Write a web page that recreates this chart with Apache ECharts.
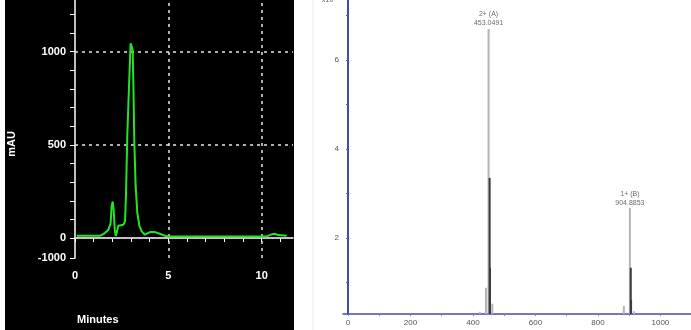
<!DOCTYPE html>
<html><head><meta charset="utf-8">
<script src="https://cdn.jsdelivr.net/npm/echarts@6/dist/echarts.min.js"></script>
<style>html,body{margin:0;padding:0;background:#fff}#c{width:691px;height:330px}</style>
</head><body><div id="c"></div>
<script>
// Chromatogram (left)
const timeMin = [0.09,1.34,1.6,1.79,1.91,1.96,2.02,2.07,2.13,2.18,2.23,2.32,2.59,2.68,2.73,2.8,2.89,2.98,3.04,3.09,3.13,3.18,3.25,3.34,3.45,3.57,3.75,4.02,4.29,4.55,4.82,5.0,10.27,10.54,10.71,10.89,11.34];
const mAU = [12,12,27,45,80,170,196,152,45,12,27,66,71,90,223,545,804,1045,1027,1009,812,509,277,134,66,36,18,32,32,23,12,9,9,20,23,16,12];
const chromYLabels = [-107,0,500,1000];
const chromXLabels = [0,5,10];
// Mass spectrum (right)
const lightMz = [422,441.6,450,461.8,883,902.4,916];
const lightInt = [0.34,0.88,6.7,0.52,0.47,2.67,0.35];
const darkMz = [453.4,454.5,905.2,906.2];
const darkInt = [3.35,1.33,1.33,0.6];
const annotMz = [450,902.4];
const annotInt = [6.7,2.67];
const annotText = ['2+ (A)\n453.0491','1+ (B)\n904.8853'];
const msYLabels = [2,4,6];
const msXLabels = [0,200,400,600,800,1000];

const chart = echarts.init(document.getElementById('c'), null, {renderer:'canvas'});
const range = (a,b,s)=>{const r=[];for(let v=a;v<=b+1e-9;v+=s)r.push(v);return r;};
const white='#ffffff';
const gridLine = (c)=>({type:[3,4],color:c,width:1.5});
chart.setOption({
  animation:false,
  backgroundColor:'#ffffff',
  graphic:[
    {type:'rect',shape:{x:5,y:0,width:289,height:330},style:{fill:'#000'},z:-10,silent:true},
    {type:'line',shape:{x1:313,y1:0,x2:313,y2:330},style:{stroke:'#eeeee8',lineWidth:1},z:-10,silent:true},
    {type:'text',x:77,y:320,style:{text:'Minutes',fill:white,font:'bold 11px "Liberation Sans"',align:'left',verticalAlign:'middle'}},
    {type:'text',x:12,y:144,rotation:Math.PI/2,style:{text:'mAU',fill:white,font:'bold 11px "Liberation Sans"',align:'center',verticalAlign:'middle'}},
    {type:'text',x:322,y:-3,style:{text:'x10\u2074',fill:'#555',font:'7px "Liberation Sans"'}}
  ],
  grid:[
    {left:75,top:0,width:218,height:258},
    {left:343,top:0,width:348,height:314}
  ],
  xAxis:[
    {gridIndex:0,type:'value',min:0,max:11.68,
     axisLine:{lineStyle:{color:white,width:1.5}},
     axisTick:{customValues:range(0,11,1),length:4,lineStyle:{color:white,width:1}},
     axisLabel:{customValues:chromXLabels,color:white,fontSize:11,fontWeight:'bold',fontFamily:'Liberation Sans',margin:12},
     splitLine:{show:false}},
    {gridIndex:1,type:'value',min:-16,max:1098,
     axisLine:{lineStyle:{color:'#4848b0',width:1.5}},
     axisTick:{customValues:range(0,1000,100),length:2,lineStyle:{color:'#888'}},
     axisLabel:{customValues:msXLabels,color:'#555',fontSize:8,fontFamily:'Liberation Sans',margin:5,formatter:v=>String(v)},
     splitLine:{show:false}}
  ],
  yAxis:[
    {gridIndex:0,type:'value',min:-107,max:1277,
     axisLine:{show:true,lineStyle:{color:white,width:1.5}},
     axisTick:{customValues:[-107].concat(range(0,1200,100)),length:5,lineStyle:{color:white,width:1}},
     axisLabel:{customValues:chromYLabels,color:white,fontSize:11,fontWeight:'bold',fontFamily:'Liberation Sans',margin:9,
       formatter:v=>v<0?'-1000':String(v)},
     splitLine:{show:false}},
    {gridIndex:1,type:'value',min:0.29,max:7.35,
     axisLine:{show:true,lineStyle:{color:'#4848b0',width:2}},
     axisTick:{customValues:range(1,7,1),length:2,lineStyle:{color:'#666'}},
     axisLabel:{customValues:msYLabels,color:'#555',fontSize:8,fontFamily:'Liberation Sans',margin:4},
     splitLine:{show:false}}
  ],
  series:[
    {type:'line',xAxisIndex:0,yAxisIndex:0,data:timeMin.map((t,i)=>[t,mAU[i]]),
     showSymbol:false,smooth:false,lineStyle:{color:'#22e622',width:2},z:5,
     markLine:{silent:true,symbol:['none','none'],label:{show:false},
       data:[
         {yAxis:1000,lineStyle:gridLine('#e8e8e8')},
         {yAxis:500,lineStyle:gridLine('#e8e8e8')},
         {yAxis:0,lineStyle:gridLine('#d8bcd8')},
         {xAxis:5,lineStyle:gridLine('#e8e8e8')},
         {xAxis:10,lineStyle:gridLine('#e8e8e8')}
       ]}},
    {type:'bar',xAxisIndex:1,yAxisIndex:1,data:lightMz.map((m,i)=>[m,lightInt[i]]),
     barWidth:2,itemStyle:{color:'#b4b4b4'},barGap:'-100%',z:2},
    {type:'bar',xAxisIndex:1,yAxisIndex:1,data:darkMz.map((m,i)=>[m,darkInt[i]]),
     barWidth:2,itemStyle:{color:'#3c3c3c'},barGap:'-100%',z:3},
    {type:'scatter',xAxisIndex:1,yAxisIndex:1,symbolSize:0,silent:true,
     data:annotMz.map((m,i)=>({value:[m,annotInt[i]],label:{formatter:annotText[i]}})),
     label:{show:true,position:'top',distance:1,color:'#444',fontSize:7,lineHeight:9,fontFamily:'Liberation Sans'}}
  ]
});
</script></body></html>
